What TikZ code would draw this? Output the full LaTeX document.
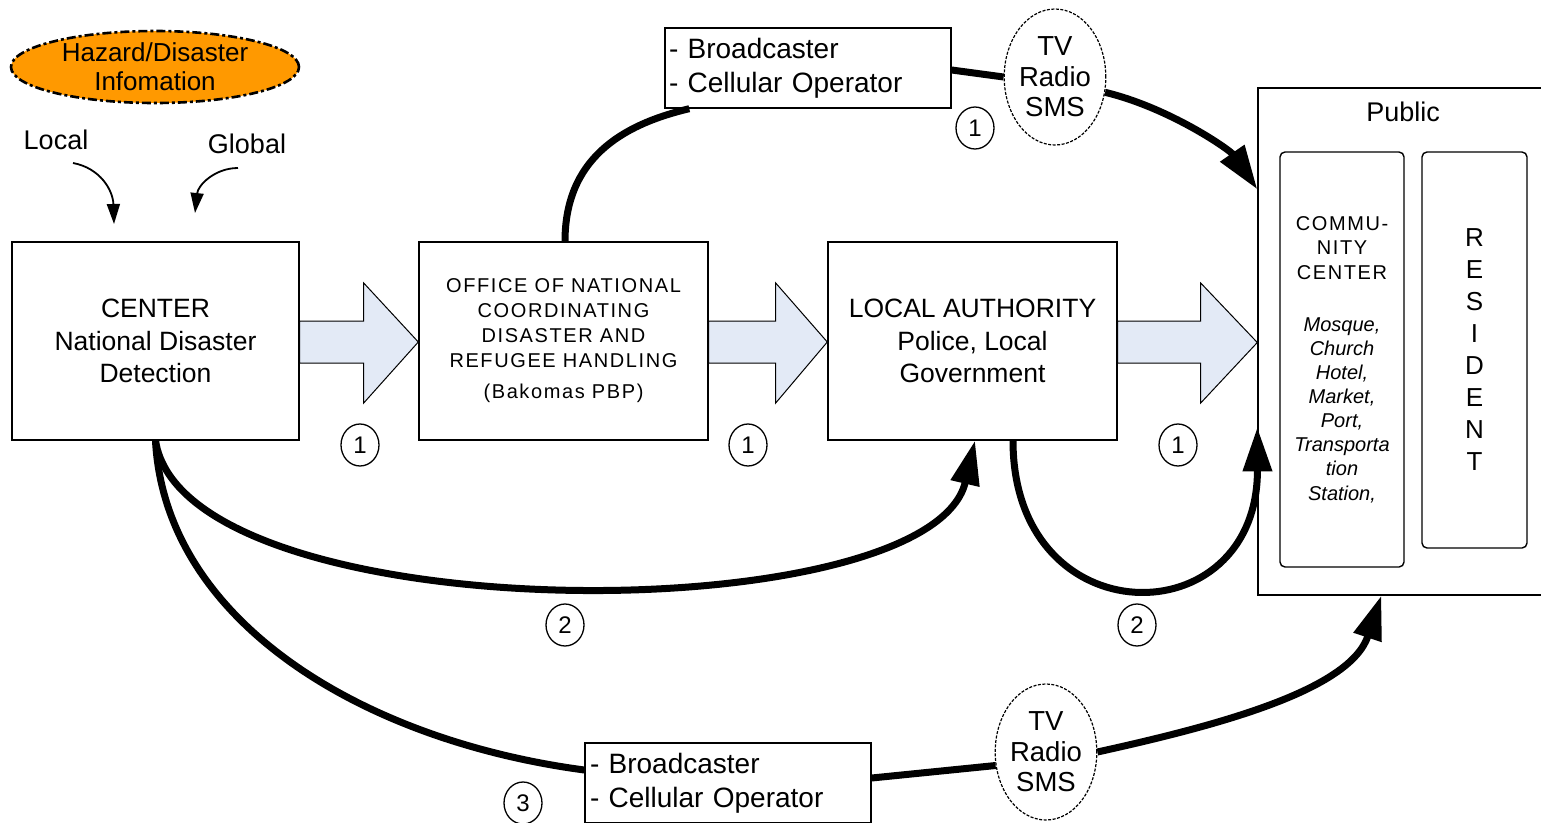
\documentclass[tikz,border=0pt]{standalone}
\usepackage{fontspec}
\setmainfont{Liberation Sans}
\newfontfamily\spaced[LetterSpace=8]{Liberation Sans}
\usetikzlibrary{arrows.meta,shapes.geometric,calc}
\definecolor{hazorange}{HTML}{FF9900}
\definecolor{arrowblue}{HTML}{E3EAF6}
\tikzset{
  boxstyle/.style={draw, line width=1.4pt, inner sep=0pt, align=center,
    font=\fontsize{26.5}{32.5}\selectfont},
  listbox/.style={draw, line width=1.4pt, inner xsep=4pt, inner ysep=0pt,
    text width=278pt, align=left, minimum height=80pt,
    font=\fontsize{28}{34}\selectfont},
  media/.style={draw, ellipse, dash pattern=on 3pt off 1.5pt, line width=1.2pt,
    minimum width=100pt, minimum height=136pt, inner sep=0pt, align=center,
    font=\fontsize{27.5}{30.5}\selectfont},
  num/.style={draw, ellipse, line width=1.3pt, minimum width=38pt,
    minimum height=42pt, inner sep=0pt, font=\fontsize{24}{24}\selectfont},
  flow/.style={line width=7pt},
  headtip/.style={-{Triangle[length=44pt,width=28pt]}},
  smallflow/.style={line width=1.8pt, -{Triangle[length=20pt,width=13pt]}},
  blockarrow/.style={fill=arrowblue, draw, line width=1pt, line join=miter},
  plain/.style={inner sep=0pt, font=\fontsize{27}{30}\selectfont}
}
\begin{document}
\begin{tikzpicture}[x=1pt,y=-1pt]
\useasboundingbox (0,0) rectangle (1541,822);
\fill[white] (0,0) rectangle (1541,822);

% hazard ellipse
\node[draw, ellipse, fill=hazorange, line width=2.6pt,
  dash pattern=on 9pt off 3pt on 3pt off 3pt,
  minimum width=288pt, minimum height=72pt, inner sep=0pt, align=center,
  font=\fontsize{26}{29}\selectfont] (haz) at (155,67) {Hazard/Disaster\\Infomation};

\node[plain] (loc) at (56,140) {Local};
\node[plain] (glo) at (247,144) {Global};
\coordinate (locS) at (73,163);
\coordinate (locE) at (114,224);
\coordinate (gloS) at (238,168);
\coordinate (gloE) at (195,213);
\draw[smallflow] (locS) .. controls (100,168) and (113,190) .. (locE);
\draw[smallflow] (gloS) .. controls (215,168) and (198,185) .. (gloE);

% main boxes
\node[boxstyle, minimum width=287pt, minimum height=198pt] (c) at (155.5,341)
  {CENTER\\National Disaster\\Detection};
\node[boxstyle, minimum width=289pt, minimum height=198pt,
  font=\spaced\fontsize{20}{25}\selectfont] (o) at (563.5,341)
  {OFFICE OF NATIONAL\\COORDINATING\\DISASTER AND\\REFUGEE HANDLING\\[6pt](Bakomas PBP)};
\node[boxstyle, minimum width=289pt, minimum height=198pt] (la) at (972.5,341)
  {LOCAL AUTHORITY\\Police, Local\\Government};

% public
\node[draw, line width=1.4pt, minimum width=287pt, minimum height=507pt, inner sep=0pt]
  (pub) at (1401.5,341.5) {};
\node[plain] (publbl) at (1403,112) {Public};
\node[draw, rounded corners=5pt, line width=1.4pt, minimum width=124pt,
  minimum height=415pt, inner sep=0pt, text width=124pt, align=center,
  font=\spaced\fontsize{20}{24.5}\selectfont] (cc) at (1342,359.5)
  {COMMU-\\NITY\\CENTER\\[28.5pt]\normalfont\fontsize{20}{24}\selectfont\itshape
   Mosque,\\Church\\Hotel,\\Market,\\Port,\\Transporta\\tion\\Station,};
\node[draw, rounded corners=5pt, line width=1.4pt, minimum width=105pt,
  minimum height=396pt, inner sep=0pt, align=center,
  font=\fontsize{26}{32}\selectfont] (res) at (1474.5,350)
  {R\\E\\S\\I\\D\\E\\N\\T};

% broadcaster boxes and media ellipses
\node[listbox] (bc1) at (808,68) {- Broadcaster\\- Cellular Operator};
\node[media] (tv1) at (1055,77) {TV\\Radio\\SMS};
\node[listbox, inner xsep=5pt, text width=276pt] (bc2) at (728,783) {- Broadcaster\\- Cellular Operator};
\node[media] (tv2) at (1046,752) {TV\\Radio\\SMS};

% block arrows
\draw[blockarrow] ($(c.east)+(0,-20)$) -- ++(64,0) -- ++(0,-38) -- ($(o.west)+(0,1)$)
  -- ($(c.east)+(64,62)$) -- ++(0,-40) -- ($(c.east)+(0,22)$) -- cycle;
\draw[blockarrow] ($(o.east)+(0,-20)$) -- ++(67,0) -- ++(0,-38) -- ($(la.west)+(0,1)$)
  -- ($(o.east)+(67,62)$) -- ++(0,-40) -- ($(o.east)+(0,22)$) -- cycle;
\draw[blockarrow] ($(la.east)+(0,-20)$) -- ++(83,0) -- ++(0,-38) -- ($(pub.west)+(0,1)$)
  -- ($(la.east)+(83,62)$) -- ++(0,-40) -- ($(la.east)+(0,22)$) -- cycle;

% number labels
\node[num] (n1a) at (360,445) {1};
\node[num] (n1b) at (748,445) {1};
\node[num] (n1c) at (1178,445) {1};
\node[num] (n1d) at (975,128) {1};
\node[num] (n2a) at (565,625) {2};
\node[num] (n2b) at (1137,625) {2};
\node[num] (n3) at (523,803) {3};

% thick flows
\draw[flow] ([xshift=1.5pt]o.north) .. controls (565,160) and (620,125) .. ([xshift=25pt]bc1.south west);
\draw[flow] ([yshift=-2pt]bc1.east) -- (tv1.west);
\draw[flow, headtip] (tv1.-17) .. controls (1170,108) and (1230,150) .. ($(pub.north west)+(0,102)$);
\draw[flow, headtip] (c.south) .. controls (185,633) and (930,633) .. ([xshift=2.5pt]la.south);
\draw[flow] (c.south) .. controls (165,620) and (360,740) .. ([yshift=13pt]bc2.west);
\draw[flow] ([yshift=5pt]bc2.east) -- (tv2.195);
\draw[flow, headtip] (tv2.east) .. controls (1220,725) and (1350,690) .. ($(pub.south west)+(124,0)$);
\draw[flow, headtip] ([xshift=40.5pt]la.south) .. controls (1013,638) and (1258,638) .. ($(pub.north west)+(0,340)$);
\end{tikzpicture}
\end{document}
